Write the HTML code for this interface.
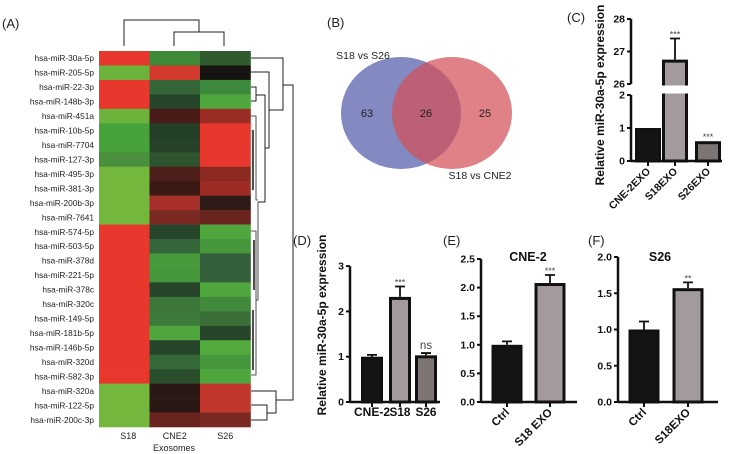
<!DOCTYPE html>
<html><head><meta charset="utf-8">
<style>
html,body{margin:0;padding:0;background:#fff;}
svg{display:block;font-family:"Liberation Sans",Arial,sans-serif;}
.lbl{font-size:13px;fill:#222;}
.tk{font-size:10.5px;font-weight:bold;fill:#111;}
.rl{font-size:8.3px;fill:#222;}
</style></head>
<body>
<svg id="fig" width="730" height="454" viewBox="0 0 730 454">
  <g id="heat"></g>
  <g id="dendro" stroke="#222" stroke-width="1" fill="none">
    <path d="M124 46V20H199V32M174 46V32H224V46"/>
    <path d="M251 58H283V110H269M283 85H293V400H276"/>
    <path d="M251 72H269V148H265"/>
    <path d="M251 87H256V101H251M256 95H265V202H258"/>
    <path d="M251 116H256V200H258M251 231H256V375H251M256 300H258V202" stroke-width="0.8"/>
    <path d="M253 130V190M254 240V290M253 310V370" stroke-width="1.6"/>
    <path d="M251 391H276V413H267M251 405H267V420H251"/>
  </g>
  <text class="lbl" x="2" y="28">(A)</text>
  <text class="lbl" x="327" y="27">(B)</text>
  <text class="lbl" x="567" y="22">(C)</text>
  <text class="lbl" x="293" y="245">(D)</text>
  <text class="lbl" x="443" y="245">(E)</text>
  <text class="lbl" x="588" y="245">(F)</text>

  <g>
    <ellipse cx="401" cy="113" rx="60" ry="56" fill="rgb(100,108,178)" fill-opacity="0.8"/>
    <ellipse cx="452" cy="113" rx="60" ry="56" fill="rgb(210,80,88)" fill-opacity="0.72"/>
    <text x="363" y="59" font-size="10.5" text-anchor="middle" fill="#222">S18 vs S26</text>
    <text x="480" y="179" font-size="10.5" text-anchor="middle" fill="#222">S18 vs CNE2</text>
    <text x="367" y="117" font-size="11" text-anchor="middle" fill="#222">63</text>
    <text x="426" y="117" font-size="11" text-anchor="middle" fill="#222">26</text>
    <text x="485" y="117" font-size="11" text-anchor="middle" fill="#222">25</text>
  </g>
  <g id="charts"></g>
</svg>
<script>
// Heatmap data
const miRNAs = ["hsa-miR-30a-5p","hsa-miR-205-5p","hsa-miR-22-3p","hsa-miR-148b-3p","hsa-miR-451a","hsa-miR-10b-5p","hsa-miR-7704","hsa-miR-127-3p","hsa-miR-495-3p","hsa-miR-381-3p","hsa-miR-200b-3p","hsa-miR-7641","hsa-miR-574-5p","hsa-miR-503-5p","hsa-miR-378d","hsa-miR-221-5p","hsa-miR-378c","hsa-miR-320c","hsa-miR-149-5p","hsa-miR-181b-5p","hsa-miR-146b-5p","hsa-miR-320d","hsa-miR-582-3p","hsa-miR-320a","hsa-miR-122-5p","hsa-miR-200c-3p"];
const samples = ["S18","CNE2","S26"];
const colS18 = ["#e8382e","#6cb33c","#e8382e","#e8382e","#6cb33c","#46a33a","#46a33a","#4a8f3e","#73b83c","#73b83c","#73b83c","#73b83c","#e8382e","#e8382e","#e8382e","#e8382e","#e8382e","#e8382e","#e8382e","#e8382e","#e8382e","#e8382e","#e8382e","#73b83c","#73b83c","#73b83c"];
const colCNE2 = ["#3f8a3a","#d23a2e","#35663a","#27452a","#4a1c18","#233f26","#26432a","#2e5530","#4d1e1a","#3a1814","#a8302a","#7a2822","#27452a","#35663a","#469a3c","#46963c","#27452a","#3c763a","#3c7a3a","#4ea63c","#27452a","#356a38","#2a4e2c","#2a1814","#2a1814","#6a2420"];
const colS26 = ["#2f5a2e","#151410","#3e8a3c","#4ea63c","#9a2c24","#e8382e","#e8382e","#e8382e","#8c2a22","#9e2c24","#2e1a16","#6a2420","#4ea63c","#46963c","#33603a","#33603a","#4ea63c","#418a3c","#3a7038","#27452a","#52aa3c","#46963c","#4ea63c","#c0362c","#c0362c","#7a2822"];

// Panel C data
const cCats = ["CNE-2EXO","S18EXO","S26EXO"];
const cVals = [1.0, 26.75, 0.6];
const cErr = [0.0, 27.4, 0.6];
const cStars = ["", "***", "***"];
const cTicksLow = [0,1,2];
const cTicksHigh = [26,27,28];
// Panel D data
const dCats = ["CNE-2","S18","S26"];
const dVals = [1.0, 2.32, 1.03];
const dErr = [1.04, 2.55, 1.08];
const dStars = ["", "***", "ns"];
const dTicks = [0,1,2,3];
// Panel E data
const eCats = ["Ctrl","S18 EXO"];
const eVals = [1.0, 2.08];
const eErr = [1.06, 2.22];
const eStars = ["", "***"];
const eTicks = ["0.0","0.5","1.0","1.5","2.0","2.5"];
// Panel F data
const fCats = ["Ctrl","S18EXO"];
const fVals = [1.0, 1.57];
const fErr = [1.11, 1.65];
const fStars = ["", "**"];
const fTicks = ["0.0","0.5","1.0","1.5","2.0"];

const NS = "http://www.w3.org/2000/svg";
function mk(tag, attrs, parent, text){
  const e = document.createElementNS(NS, tag);
  for (const k in attrs) e.setAttribute(k, attrs[k]);
  if (text !== undefined) e.textContent = text;
  parent.appendChild(e);
  return e;
}

const heat = document.getElementById('heat');
const hx0 = 99, hy0 = 51, cw = 50.5, rh = 376/26;
const cols = [colS18, colCNE2, colS26];
miRNAs.forEach((m, i) => {
  cols.forEach((col, j) => {
    const r = mk('rect', {x: hx0 + j*cw, y: hy0 + i*rh, width: cw+0.3, height: rh+0.3, fill: col[i]}, heat);
    
    
  });
  const t = mk('text', {x: 94, y: hy0 + i*rh + rh/2 + 3, 'text-anchor': 'end', class: 'rl'}, heat, m);
  
  
});
samples.forEach((s, j) => {
  const t = mk('text', {x: hx0 + j*cw + cw/2 + (j===0?4:0), y: 439, 'text-anchor': 'middle', 'font-size': '9', fill: '#222'}, heat, s);
  
  
});
const ex = mk('text', {x: 174, y: 451, 'text-anchor': 'middle', 'font-size': '9', fill: '#222'}, heat, 'Exosomes');



const charts = document.getElementById('charts');
const fills = ["#141414", "#a39b9b", "#7d7474"];

function drawBars(g, cats, vals, errs, stars, xs, bw, yScale, yZero, rot, labelY, lens){
  cats.forEach((c, i) => {
    const cx = xs[i];
    const top = yScale(vals[i]);
    if (errs[i] > vals[i]) {
      const ey = yScale(errs[i]);
      const el = mk('path', {d: `M${cx} ${top}V${ey}M${cx-5} ${ey}H${cx+5}`, stroke: '#111', 'stroke-width': 1.8, fill: 'none'}, g);
      
      
    }
    const b = mk('rect', {x: cx - bw/2, y: top + 1.5, width: bw, height: yZero - top - 1.5, fill: fills[i], stroke: '#111', 'stroke-width': 3}, g);
    
    
    mk('line', {x1: cx, x2: cx, y1: yZero, y2: yZero + 5, stroke: '#111', 'stroke-width': 2}, g);
    if (stars[i]) {
      const sy = yScale(Math.max(errs[i], vals[i])) - 4;
      const st = mk('text', {x: cx, y: stars[i]==='ns' ? sy : sy + 3, 'text-anchor': 'middle', 'font-size': stars[i]==='ns' ? '11.5' : '9', fill: '#444'}, g, stars[i]);
      
      
    }
    let lt;
    if (rot) {
      lt = mk('text', {x: cx + 3, y: labelY, 'text-anchor': 'end', 'font-size': rot, 'font-weight': 'bold', fill: '#111', transform: `rotate(-45 ${cx+3} ${labelY})`}, g, c);
    } else {
      lt = mk('text', {x: cx, y: labelY, 'text-anchor': 'middle', 'font-size': '12', 'font-weight': 'bold', fill: '#111', textLength: lens[i], lengthAdjust: 'spacingAndGlyphs'}, g, c);
    }
    
    
  });
}
function yAxis(g, ax, ticks, ys, top, bottom){
  mk('line', {x1: ax, x2: ax, y1: top, y2: bottom, stroke: '#111', 'stroke-width': 2.5}, g);
  ticks.forEach((t, i) => {
    mk('line', {x1: ax - 4, x2: ax, y1: ys[i], y2: ys[i], stroke: '#111', 'stroke-width': 2}, g);
    const tt = mk('text', {x: ax - 6, y: ys[i] + 3.5, 'text-anchor': 'end', class: 'tk'}, g, t);
    
    
  });
}
function yTitle(g, x, y, text){
  const t = mk('text', {x: x, y: y, 'text-anchor': 'middle', 'font-size': '12', 'font-weight': 'bold', fill: '#111', transform: `rotate(-90 ${x} ${y})`}, g, text);
  
  
}

// Panel C
(function(){
  const g = mk('g', {}, charts);
  
  
  const ax = 631, y0 = 161;
  const yLow = v => 161 - v * 33;
  const yHigh = v => 84 - (v - 26) * 32.5;
  const yS = v => v <= 2 ? yLow(v) : yHigh(v);
  const xs = [648, 675, 708];
  drawBars(g, cCats, cVals, cErr, cStars, xs, 23, yS, y0, '10.5', 172);
  mk('rect', {x: 660, y: 85.5, width: 30, height: 8, fill: '#fff'}, g);
  mk('line', {x1: ax, x2: 722, y1: y0, y2: y0, stroke: '#111', 'stroke-width': 2.5}, g);
  yAxis(g, ax, cTicksLow, cTicksLow.map(yLow), 95, y0);
  yAxis(g, ax, cTicksHigh, cTicksHigh.map(yHigh), 19, 84);
  yTitle(g, 604, 95, 'Relative miR-30a-5p expression');
})();

// Panel D
(function(){
  const g = mk('g', {}, charts);
  
  
  const ax = 350, y0 = 402;
  const yS = v => y0 - v * 45.3;
  drawBars(g, dCats, dVals, dErr, dStars, [372, 400, 426], 19, yS, y0, null, 416, [36, 21, 21]);
  mk('line', {x1: ax, x2: 440, y1: y0, y2: y0, stroke: '#111', 'stroke-width': 2.5}, g);
  yAxis(g, ax, dTicks, dTicks.map(yS), yS(3), y0);
  yTitle(g, 326, 325, 'Relative miR-30a-5p expression');
})();

// Panel E
(function(){
  const g = mk('g', {}, charts);
  
  
  const ax = 481, y0 = 402;
  const yS = v => y0 - v * 57.2;
  drawBars(g, eCats, eVals, eErr, eStars, [507, 550], 28, yS, y0, '11.5', 413);
  mk('line', {x1: ax, x2: 577, y1: y0, y2: y0, stroke: '#111', 'stroke-width': 2.5}, g);
  yAxis(g, ax, eTicks, eTicks.map(t => yS(parseFloat(t))), yS(2.5), y0);
  const t = mk('text', {x: 528, y: 261, 'text-anchor': 'middle', 'font-size': '12.5', 'font-weight': 'bold', fill: '#111'}, g, 'CNE-2');
  
  
})();

// Panel F
(function(){
  const g = mk('g', {}, charts);
  
  
  const ax = 618, y0 = 402;
  const yS = v => y0 - v * 72.5;
  drawBars(g, fCats, fVals, fErr, fStars, [644, 688], 28, yS, y0, '11.5', 413);
  mk('line', {x1: ax, x2: 718, y1: y0, y2: y0, stroke: '#111', 'stroke-width': 2.5}, g);
  yAxis(g, ax, fTicks, fTicks.map(t => yS(parseFloat(t))), yS(2.0), y0);
  const t = mk('text', {x: 660, y: 261, 'text-anchor': 'middle', 'font-size': '12.5', 'font-weight': 'bold', fill: '#111'}, g, 'S26');
  
  
})();
</script>
</body></html>
